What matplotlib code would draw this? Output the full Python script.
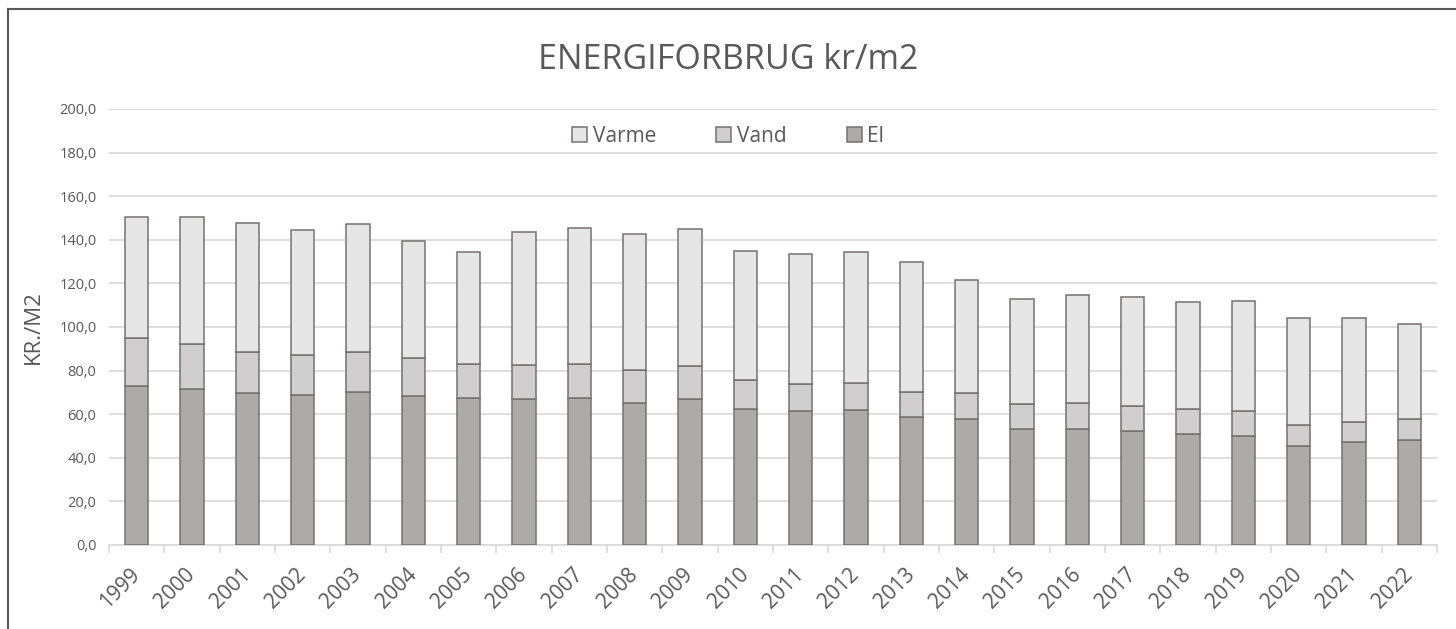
import numpy as np
import matplotlib
matplotlib.use('Agg')
import matplotlib.pyplot as plt
from matplotlib.patches import Patch
from matplotlib.lines import Line2D

plt.rcParams['font.family'] = ['Open Sans', 'DejaVu Sans']

# data (kr/m2)
years = [str(y) for y in range(1999, 2023)]
el = [73.1, 71.4, 69.6, 68.8, 70.0, 68.3, 67.3, 66.8, 67.6, 65.3, 67.1, 62.5,
      61.3, 61.9, 58.7, 57.8, 53.1, 53.2, 52.4, 50.8, 50.0, 45.6, 47.4, 48.2]
vand = [21.9, 21.0, 18.8, 18.4, 18.4, 17.6, 15.7, 15.9, 15.4, 15.0, 15.0, 13.2,
        12.4, 12.3, 11.3, 11.8, 11.4, 12.1, 11.4, 11.7, 11.6, 9.4, 8.9, 9.6]
varme = [55.5, 58.1, 59.2, 57.1, 58.7, 53.4, 51.3, 60.7, 62.6, 62.4, 63.0, 59.2,
         59.9, 60.0, 60.0, 52.1, 48.2, 49.5, 50.1, 49.1, 50.3, 49.0, 47.8, 43.6]

txt = '#595959'
edge = '#767171'
c_el, c_vand, c_varme = '#AEAAAA', '#D0CECE', '#E7E6E6'

fig = plt.figure(figsize=(14.56, 6.29), dpi=100)
ax = fig.add_axes([109 / 1456, 1 - 545 / 629, (1437 - 109) / 1456, (545 - 109) / 629])

x = np.arange(len(years))
w = 0.42
el_a = np.array(el)
vand_a = np.array(vand)
ax.bar(x, el, w, color=c_el, edgecolor=edge, linewidth=1.1, zorder=3)
ax.bar(x, vand, w, bottom=el_a, color=c_vand, edgecolor=edge, linewidth=1.1, zorder=3)
ax.bar(x, varme, w, bottom=el_a + vand_a, color=c_varme, edgecolor=edge, linewidth=1.1, zorder=3)

ax.set_xlim(-0.5, len(years) - 0.5)
ax.set_ylim(0, 200)
ax.set_yticks(np.arange(0, 201, 20))
ax.set_yticklabels(['%d,0' % v for v in range(0, 201, 20)], fontsize=10.5, color=txt)
ax.yaxis.grid(True, color='#D9D9D9', linewidth=1.2, zorder=0)
ax.tick_params(axis='y', length=0, pad=9)

ax.set_xticks(x)
ax.set_xticklabels(years, rotation=45, fontsize=15, color=txt, ha='right', va='center',
                   rotation_mode='anchor')
ax.set_xticks(np.arange(-0.5, len(years), 1), minor=True)
ax.tick_params(axis='x', which='major', length=0, pad=19)
ax.tick_params(axis='x', which='minor', length=6, color='#D9D9D9', width=1.2)

for s in ['top', 'right', 'left']:
    ax.spines[s].set_visible(False)
ax.spines['bottom'].set_color('#D9D9D9')
ax.spines['bottom'].set_linewidth(1.2)

ax.set_ylabel('KR./M2', fontsize=16, color=txt, labelpad=11)

fig.text(0.5, 1 - 60 / 629, 'ENERGIFORBRUG kr/m2', ha='center', va='center', fontsize=24.5, color=txt)

handles = [Patch(facecolor=c_varme, edgecolor=edge, linewidth=1.1),
           Patch(facecolor=c_vand, edgecolor=edge, linewidth=1.1),
           Patch(facecolor=c_el, edgecolor=edge, linewidth=1.1)]
fig.legend(handles, ['Varme', 'Vand', 'El'], loc='center', bbox_to_anchor=(0.5, 1 - 136 / 629),
           ncol=3, frameon=False, fontsize=15, labelcolor=txt, handlelength=0.72, handleheight=0.72,
           handletextpad=0.25, columnspacing=2.9)

# outer chart border (left and top only visible)
fig.add_artist(Line2D([8 / 1456, 8 / 1456], [0, 1 - 9 / 629], color='#595959', linewidth=1.5))
fig.add_artist(Line2D([8 / 1456, 1], [1 - 9 / 629, 1 - 9 / 629], color='#595959', linewidth=1.5))

fig.savefig('out.png', dpi=100)
